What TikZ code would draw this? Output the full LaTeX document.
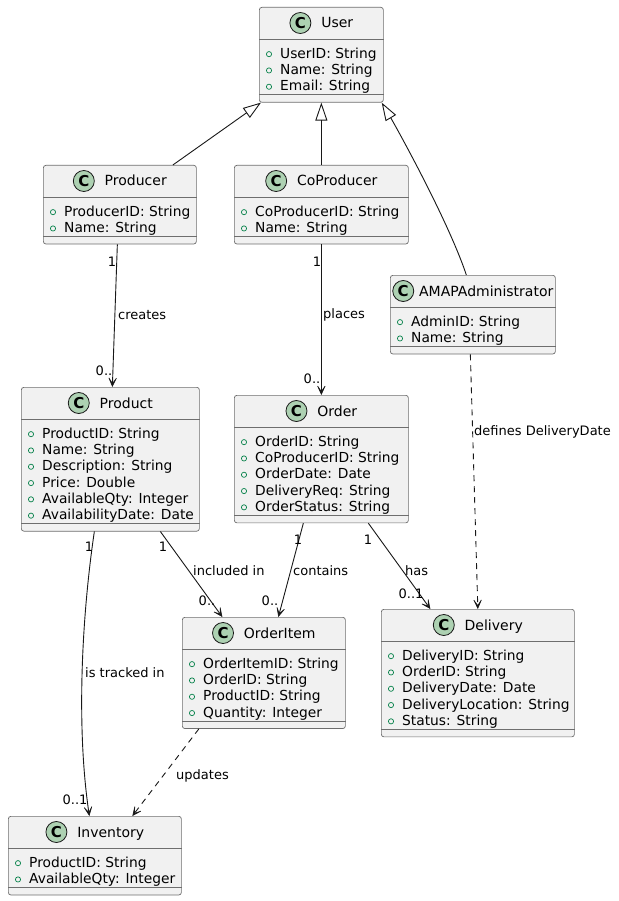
\documentclass[tikz,border=0pt]{standalone}
\usepackage{fontspec}
\setmainfont{DejaVu Sans}
\usetikzlibrary{arrows.meta,calc}

\definecolor{boxfill}{HTML}{F1F1F1}
\definecolor{boxline}{HTML}{181818}
\definecolor{boxedge}{HTML}{6E6E6E}
\definecolor{spotfill}{HTML}{ADD1B2}
\definecolor{fieldgreen}{HTML}{038048}

\tikzset{
  classbox/.style={draw=boxedge, fill=boxfill, line width=0.7pt, rounded corners=2.5pt, inner sep=0pt},
  sepline/.style={draw=boxedge, line width=0.7pt},
  attr/.style={inner sep=0pt, font=\fontsize{13.8}{16}\selectfont},
  lbl/.style={inner sep=0pt, font=\fontsize{13}{15}\selectfont},
  conn/.style={draw=boxline, line width=0.9pt},
  inherit/.style={conn, -{Triangle[open, length=18pt, width=12pt, line width=0.9pt]}},
  assoc/.style={conn, -{Stealth[length=12pt, width=11pt, inset=8pt, line width=0.6pt]}},
  depend/.style={assoc, dash pattern=on 6pt off 5pt},
}

% class spot: green circle with a bold C
\newsavebox\spotbox
\sbox\spotbox{\tikz[baseline={(0,-5pt)}]{\node[circle, draw=boxline, fill=spotfill, line width=0.8pt, minimum size=21pt, inner sep=0pt]{\fontsize{15}{15}\selectfont\bfseries C};}}

% \umlclass[gap]{id}{name}{left}{right}{top}{rows}{attributes}
\newcommand\umlclass[8][10]{%
  \pgfmathsetmacro\clsw{#5-#4}%
  \pgfmathsetmacro\clsh{32+6+16.3*#7+8}%
  \node[classbox, minimum width=\clsw pt, minimum height=\clsh pt, anchor=north west] (#2) at (#4,#6) {};
  \draw[sepline] ([yshift=-32pt]#2.north west) -- ([yshift=-32pt]#2.north east);
  \draw[sepline] ([yshift=8pt]#2.south west) -- ([yshift=8pt]#2.south east);
  \node[anchor=base, inner sep=0pt] (#2-title) at ([yshift=-21pt]#2.north)
    {\usebox\spotbox\hspace{#1pt}{\fontsize{14}{16}\selectfont #3}};
  \foreach \a [count=\i from 0] in {#8} {
    \pgfmathsetmacro\rowb{-(32+6+16.3*(\i+0.5)+5)}
    \pgfmathsetmacro\rowc{-(32+6+16.3*(\i+0.5)+1)}
    \draw[fieldgreen, line width=0.7pt] ([xshift=10pt, yshift=\rowc pt]#2.north west) circle (2.6pt);
    \node[attr, anchor=base west] (#2-row\i) at ([xshift=21pt, yshift=\rowb pt]#2.north west) {\a};
  }%
}

\begin{document}
\begin{tikzpicture}[x=1pt, y=-1pt]
  \fill[white] (0,0) rectangle (618,901);
  \useasboundingbox (0,0) rectangle (618,901);

  % classes
  \umlclass{user}{User}{259}{383}{7}{3}{UserID: String, Name: String, Email: String}
  \umlclass{producer}{Producer}{43}{196}{165}{2}{ProducerID: String, Name: String}
  \umlclass{coproducer}{CoProducer}{234}{408}{165}{2}{CoProducerID: String, Name: String}
  \umlclass[5]{amap}{AMAPAdministrator}{390}{555}{275}{2}{AdminID: String, Name: String}
  \umlclass{product}{Product}{21}{199}{387}{6}{ProductID: String, Name: String, Description: String, Price: Double, AvailableQty: Integer, AvailabilityDate: Date}
  \umlclass{order}{Order}{234}{408}{395}{5}{OrderID: String, CoProducerID: String, OrderDate: Date, DeliveryReq: String, OrderStatus: String}
  \umlclass{orderitem}{OrderItem}{182}{345}{617}{4}{OrderItemID: String, OrderID: String, ProductID: String, Quantity: Integer}
  \umlclass{delivery}{Delivery}{381}{574}{609}{5}{DeliveryID: String, OrderID: String, DeliveryDate: Date, DeliveryLocation: String, Status: String}
  \umlclass{inventory}{Inventory}{8}{181}{816}{2}{ProductID: String, AvailableQty: Integer}

  % generalisations
  \draw[inherit] ([xshift=53pt]producer.north) -- ([xshift=2pt]user.south west);
  \draw[inherit] (coproducer.north) -- (user.south);
  \draw[inherit] ([xshift=-6.5pt]amap.north) .. controls (448,220) and (395,125) .. ([xshift=-2pt]user.south east);

  % associations
  \draw[assoc] ([xshift=-2.5pt]producer.south) -- ([xshift=2pt]product.north);
  \draw[assoc] (coproducer.south) -- (order.north);
  \draw[depend] ([xshift=-2.5pt]amap.south) -- (delivery.north);
  \draw[assoc] ([xshift=-16pt]product.south) .. controls (82,615) and (76,725) .. ([xshift=-5.5pt]inventory.north);
  \draw[assoc] ([xshift=50pt]product.south) -- ([xshift=-41.5pt]orderitem.north);
  \draw[assoc] ([xshift=-18pt]order.south) -- ([xshift=14.5pt]orderitem.north);
  \draw[assoc] ([xshift=47pt]order.south) -- ([xshift=-47.5pt]delivery.north);
  \draw[depend] ([xshift=-65pt]orderitem.south) -- ([xshift=37.5pt]inventory.north);

  % association labels
  \node[lbl, anchor=west] (l-creates) at (118,315) {creates};
  \node[lbl, anchor=west] (l-places) at (323,315) {places};
  \node[lbl, anchor=west] (l-defines) at (474,432) {defines DeliveryDate};
  \node[lbl, anchor=west] (l-tracked) at (85,673) {is tracked in};
  \node[lbl, anchor=west] (l-included) at (193,571) {included in};
  \node[lbl, anchor=west] (l-contains) at (293,571) {contains};
  \node[lbl, anchor=west] (l-has) at (405,571) {has};
  \node[lbl, anchor=west] (l-updates) at (176,776) {updates};

  % multiplicities
  \node[lbl] (m1) at (112,262) {1};
  \node[lbl] (m2) at (104,371) {0..};
  \node[lbl] (m3) at (317,262) {1};
  \node[lbl] (m4) at (312,379) {0..};
  \node[lbl] (m5) at (89,547) {1};
  \node[lbl] (m6) at (163,547) {1};
  \node[lbl] (m7) at (75,800) {0..1};
  \node[lbl] (m8) at (207,601) {0..};
  \node[lbl] (m9) at (298,540) {1};
  \node[lbl] (m10) at (270,601) {0..};
  \node[lbl] (m11) at (368,540) {1};
  \node[lbl] (m12) at (411,594) {0..1};
\end{tikzpicture}
\end{document}
